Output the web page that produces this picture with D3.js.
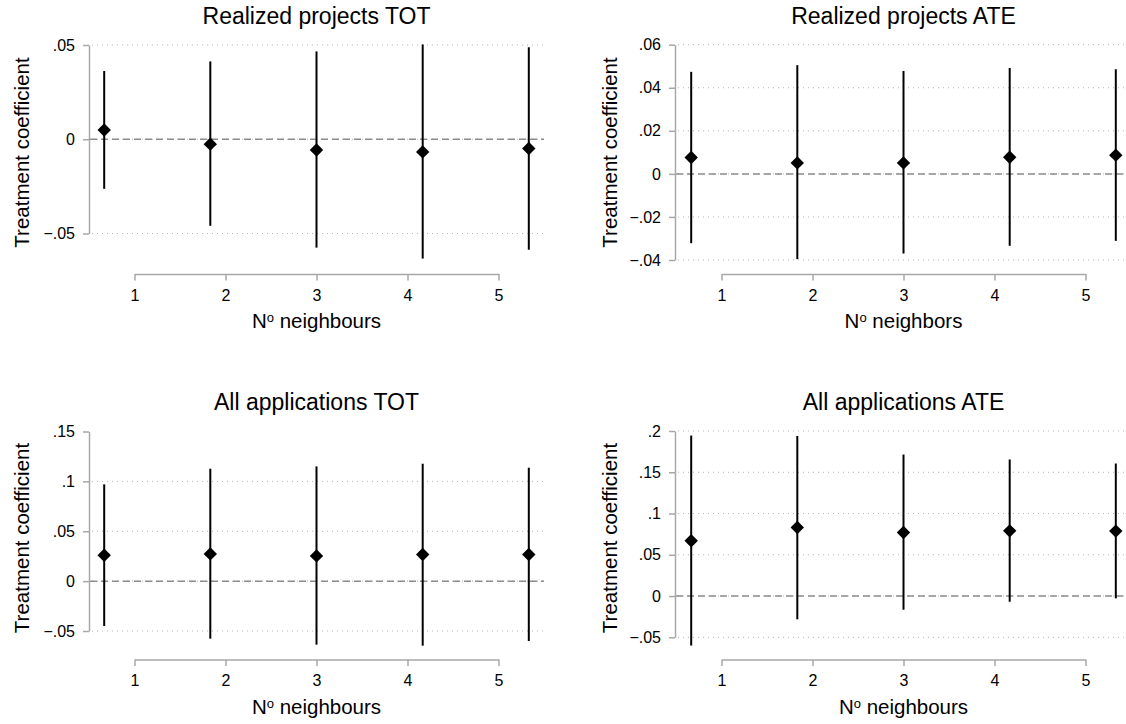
<!DOCTYPE html>
<html>
<head>
<meta charset="utf-8">
<script src="https://cdn.jsdelivr.net/npm/d3@7"></script>
<style>
  body { margin: 0; background: #fff; }
  text { font-family: "Liberation Sans", Arial, Helvetica, sans-serif; fill: #000; }
</style>
</head>
<body>
<svg width="1126" height="724"></svg>
<script>
// panel titles and axis labels
var titles = ["Realized projects TOT", "Realized projects ATE", "All applications TOT", "All applications ATE"];
var xWords = ["neighbours", "neighbors", "neighbours", "neighbours"];
var yTitle = "Treatment coefficient";

// x axis tick labels and where the estimates sit
var neighbours = [1, 2, 3, 4, 5];
var markerX = [0.667, 1.833, 3, 4.167, 5.333];

// y ticks per panel (grid drawn where gridTicks says)
var yTicks = [
  [-0.05, 0, 0.05],
  [-0.04, -0.02, 0, 0.02, 0.04, 0.06],
  [-0.05, 0, 0.05, 0.1, 0.15],
  [-0.05, 0, 0.05, 0.1, 0.15, 0.2]
];
var gridTicks = [
  [-0.05, 0, 0.05],
  [-0.04, -0.02, 0, 0.02, 0.04, 0.06],
  [-0.05, 0, 0.05, 0.1],
  [-0.05, 0, 0.05, 0.1, 0.15, 0.2]
];

// point estimates and confidence bounds
var coefRealTOT = [0.0049, -0.0026, -0.0057, -0.0067, -0.0049];
var loRealTOT   = [-0.0263, -0.0459, -0.0575, -0.0633, -0.0586];
var hiRealTOT   = [0.0362, 0.0413, 0.0466, 0.0503, 0.0488];

var coefRealATE = [0.0076, 0.0051, 0.0051, 0.0077, 0.0087];
var loRealATE   = [-0.0322, -0.0396, -0.0370, -0.0334, -0.0311];
var hiRealATE   = [0.0474, 0.0505, 0.0478, 0.0492, 0.0486];

var coefAllTOT = [0.0260, 0.0273, 0.0253, 0.0267, 0.0267];
var loAllTOT   = [-0.0450, -0.0577, -0.0637, -0.0647, -0.0600];
var hiAllTOT   = [0.0970, 0.1127, 0.1150, 0.1177, 0.1137];

var coefAllATE = [0.0670, 0.0831, 0.0771, 0.0790, 0.0787];
var loAllATE   = [-0.0600, -0.0282, -0.0166, -0.0069, -0.0028];
var hiAllATE   = [0.1945, 0.1940, 0.1715, 0.1655, 0.1606];

var coefs = [coefRealTOT, coefRealATE, coefAllTOT, coefAllATE];
var los = [loRealTOT, loRealATE, loAllTOT, loAllATE];
var his = [hiRealTOT, hiRealATE, hiAllTOT, hiAllATE];

// layout of the four panels
var layout = [
  {x: [89, 544],  axisX: 89,  y: [233.5, 45], xAxisY: 274,   titleY: 23.5,  ylabX: 28.5,  ylabY: 152.5},
  {x: [676, 1131], axisX: 675, y: [260, 44.7], xAxisY: 274,  titleY: 23.5,  ylabX: 616.5, ylabY: 152.5},
  {x: [89, 544],  axisX: 89,  y: [631, 431.5], xAxisY: 659.5, titleY: 409.5, ylabX: 28.5,  ylabY: 538},
  {x: [676, 1131], axisX: 675, y: [637.3, 431], xAxisY: 659.5, titleY: 409.5, ylabX: 616.5, ylabY: 538}
];

var svg = d3.select("svg");

// stata style: no leading zero, real minus sign
var fmt = function(v) {
  if (v === 0) return "0";
  return String(+v.toFixed(3)).replace("0.", ".").replace("-", "\u2212");
};

var diamond = d3.symbol().type(d3.symbolSquare).size(90);

layout.forEach(function(p, i) {
  var g = svg.append("g");

  var x = d3.scaleLinear().domain([0.5, 5.5]).range(p.x);
  var y = d3.scaleLinear().domain(d3.extent(yTicks[i])).range(p.y);
  var right = Math.min(p.x[1], 1126);

  // dotted grid
  g.selectAll("line.grid")
    .data(gridTicks[i])
    .enter().append("line")
      .attr("class", "grid")
      .attr("x1", p.axisX + 3)
      .attr("x2", right)
      .attr("y1", function(d) { return y(d); })
      .attr("y2", function(d) { return y(d); })
      .attr("stroke", "#b4b4b4")
      .attr("stroke-width", 1)
      .attr("stroke-dasharray", "1,4");

  // zero reference line
  g.append("line")
    .attr("x1", p.axisX + 1)
    .attr("x2", right)
    .attr("y1", y(0))
    .attr("y2", y(0))
    .attr("stroke", "#8c8c8c")
    .attr("stroke-width", 1.5)
    .attr("stroke-dasharray", "7,4");

  // y axis
  var ya = g.append("g")
    .attr("transform", "translate(" + p.axisX + ",0)")
    .call(d3.axisLeft(y).tickValues(yTicks[i]).tickFormat(fmt)
      .tickSize(6).tickSizeOuter(0).tickPadding(8));

  // x axis only spans the labelled ticks
  var xa = d3.scaleLinear().domain([1, 5]).range([x(1), x(5)]);
  var xg = g.append("g")
    .attr("transform", "translate(0," + p.xAxisY + ")")
    .call(d3.axisBottom(xa).tickValues(neighbours).tickFormat(d3.format("d"))
      .tickSize(6.5).tickSizeOuter(0).tickPadding(9));

  [ya, xg].forEach(function(a) {
    a.selectAll(".domain, .tick line")
      .attr("stroke", "#a8a8a8")
      .attr("stroke-width", 1.5);
    a.selectAll("text")
      .attr("font-size", 16)
      .attr("fill", "#000")
      .style("font-family", "'Liberation Sans', Arial, Helvetica, sans-serif");
  });

  // confidence intervals
  g.selectAll("line.ci")
    .data(markerX)
    .enter().append("line")
      .attr("class", "ci")
      .attr("x1", function(d) { return x(d); })
      .attr("x2", function(d) { return x(d); })
      .attr("y1", function(d, j) { return y(los[i][j]); })
      .attr("y2", function(d, j) { return y(his[i][j]); })
      .attr("stroke", "#000")
      .attr("stroke-width", 2);

  // point estimates
  g.selectAll("path.pt")
    .data(markerX)
    .enter().append("path")
      .attr("class", "pt")
      .attr("d", diamond)
      .attr("fill", "#000")
      .attr("transform", function(d, j) {
        return "translate(" + x(d) + "," + y(coefs[i][j]) + ") rotate(45)";
      });

  // title
  g.append("text")
    .attr("x", (p.x[0] + p.x[1]) / 2)
    .attr("y", p.titleY)
    .attr("text-anchor", "middle")
    .attr("font-size", 23)
    .text(titles[i]);

  // y title
  g.append("text")
    .attr("transform", "translate(" + p.ylabX + "," + p.ylabY + ") rotate(-90)")
    .attr("text-anchor", "middle")
    .attr("font-size", 20.5)
    .text(yTitle);

  // x title, N with superscript o
  var xt = g.append("text")
    .attr("x", (x(1) + x(5)) / 2)
    .attr("y", p.xAxisY + 54)
    .attr("text-anchor", "middle")
    .attr("font-size", 20.5);
  xt.append("tspan").text("N");
  xt.append("tspan").attr("font-size", 13).attr("dy", -6).text("o");
  xt.append("tspan").attr("dy", 6).text(" " + xWords[i]);
});
</script>
</body>
</html>
